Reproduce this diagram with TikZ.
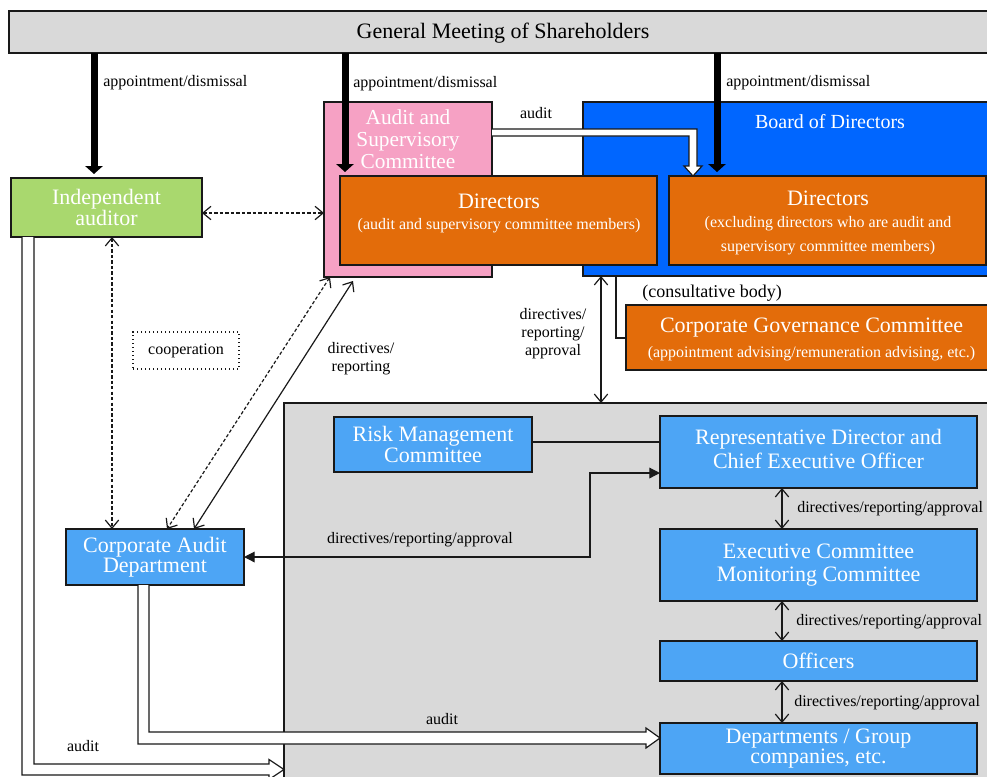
\documentclass[tikz,border=0pt]{standalone}
\usepackage{fontspec}
\setmainfont{Liberation Serif}
\usetikzlibrary{arrows.meta,calc}
\definecolor{gmgray}{RGB}{217,217,217}
\definecolor{iagreen}{RGB}{169,216,110}
\definecolor{ascpink}{RGB}{246,161,196}
\definecolor{dirorange}{RGB}{227,108,10}
\definecolor{bodblue}{RGB}{0,102,255}
\definecolor{ltblue}{RGB}{77,165,245}
\definecolor{linec}{RGB}{25,25,25}
\begin{document}
\begin{tikzpicture}[x=0.75pt,y=-0.75pt,
  box/.style={draw=linec,line width=1pt,inner sep=0pt,outer sep=0pt,align=center},
  sz/.style 2 args={minimum width=#1*0.75pt,minimum height=#2*0.75pt},
  bigw/.style={text=white,font=\fontsize{16.5}{15}\selectfont,align=center,inner sep=0pt},
  smw/.style={text=white,font=\fontsize{12}{14}\selectfont,align=center,inner sep=0pt},
  lbl/.style={text=black,font=\fontsize{12}{13.5}\selectfont,align=center,inner sep=0pt},
  thickarr/.style={draw=black,line width=5.25pt,-{Triangle[length=6pt,width=13pt]},shorten >=3pt},
  dbl/.style={draw=linec,line width=0.9pt,{Straight Barb[length=6pt,width=10pt]}-{Straight Barb[length=6pt,width=10pt]}},
  dsh/.style={dbl,dash pattern=on 2.5pt off 1.6pt},
  fillarr/.style={draw=linec,line width=0.9pt,{Triangle[length=8pt,width=8pt]}-{Triangle[length=8pt,width=8pt]}},
  hollow/.style={draw=linec,line width=0.9pt,fill=white,line join=miter},
  plain/.style={draw=linec,line width=0.9pt}]
\useasboundingbox (0,0) rectangle (987,776);
\clip (0,0) rectangle (987,776);

% executive area
\node[box,fill=gmgray,sz={716}{387}] (ga) at (642,596.5) {};

% General meeting
\node[box,fill=gmgray,sz={986}{42}] (gm) at (502,32) {};
\node[lbl,font=\fontsize{16.5}{18}\selectfont] (gmt) at (503,33) {General Meeting of Shareholders};

% Audit and Supervisory Committee
\node[box,fill=ascpink,sz={168}{175}] (asc) at (408,189.5) {};
\node[bigw,font=\fontsize{16}{16.5}\selectfont] (asct) at (408,139) {Audit and\\Supervisory\\Committee};

% Board of Directors
\node[box,fill=bodblue,sz={412}{174}] (bod) at (789,189) {};
\node[bigw,font=\fontsize{15}{18}\selectfont] (bodt) at (830,122) {Board of Directors};

% Directors (audit)
\node[box,fill=dirorange,sz={317}{89}] (da) at (498.5,220.5) {};
\node[bigw] (dat) at (499,201) {Directors};
\node[smw] (das) at (499,226) {(audit and supervisory committee members)};

% Directors (excluding)
\node[box,fill=dirorange,sz={317}{89}] (de) at (827.5,220.5) {};
\node[bigw] (det) at (828,198.5) {Directors};
\node[smw,font=\fontsize{12}{18}\selectfont] (des) at (828,236) {(excluding directors who are audit and\\supervisory committee members)};

% Independent auditor
\node[box,fill=iagreen,sz={191}{59},text=white,font=\fontsize{16.5}{14.25}\selectfont] (ia) at (106.5,207.5) {Independent\\auditor};

% Corporate Governance Committee
\node[box,fill=dirorange,sz={371}{65}] (cgc) at (811.5,337.5) {};
\node[bigw] (cgct) at (811.5,328) {Corporate Governance Committee};
\node[smw] (cgcs) at (811.5,354) {(appointment advising/remuneration advising, etc.)};
\node[lbl,font=\fontsize{13.5}{15}\selectfont] (cons) at (712,293) {(consultative body)};

% blue boxes
\node[box,fill=ltblue,sz={198}{55},text=white,font=\fontsize{16.5}{14.25}\selectfont] (rmc) at (433,444.5) {Risk Management\\Committee};
\node[box,fill=ltblue,sz={317}{72}] (rep) at (818.5,452) {};
\node[bigw,font=\fontsize{16.5}{18}\selectfont] (rept) at (818.5,449) {Representative Director and\\Chief Executive Officer};
\node[box,fill=ltblue,sz={317}{72},text=white,font=\fontsize{16.5}{17.25}\selectfont] (exec) at (818.5,565) {Executive Committee\\Monitoring Committee};
\node[box,fill=ltblue,sz={317}{40},text=white,font=\fontsize{16.5}{18}\selectfont] (off) at (818.5,661) {Officers};
\node[box,fill=ltblue,sz={317}{51},text=white,font=\fontsize{16.5}{15}\selectfont] (dept) at (818.5,748.5) {Departments / Group\\companies, etc.};
\node[box,fill=ltblue,sz={178}{56},text=white,font=\fontsize{16.5}{15}\selectfont] (cad) at (155,557) {Corporate Audit\\Department};

% cooperation
\node[box,dotted,line width=1.1pt,sz={106}{37},font=\fontsize{12}{14}\selectfont] (coop) at (186,350.5) {cooperation};

% thick appointment arrows
\draw[thickarr] (gm.south -| 94,0) -- (ia.north -| 94,0);
\draw[thickarr] (gm.south -| 345,0) -- (da.north -| 345,0);
\draw[thickarr] (gm.south -| 717,0) -- (de.north -| 717,0);
\node[lbl,anchor=west] (l1) at (103,83) {appointment/dismissal};
\node[lbl,anchor=west] (l2) at (353,84) {appointment/dismissal};
\node[lbl,anchor=west] (l3) at (726,83) {appointment/dismissal};

% hollow audit arrow ASC -> Directors
\draw[hollow] (asc.east |- 0,129) -- (697,129) -- (697,166) -- (702,166) -- (de.north -| 693,0) -- (684,166) -- (689,166) -- (689,136) -- (asc.east |- 0,136);
\node[lbl] (la) at (536,113) {audit};

% dashed connectors
\draw[dsh] (ia.east |- 0,213) -- (asc.west |- 0,213);
\draw[dsh] (ia.south -| 112,0) -- (cad.north -| 112,0);
\draw[dsh] (asc.south -| 330,0) -- (cad.north -| 167,0);
\draw[dbl] ($(asc.south -| 353,0)+(0,4)$) -- (cad.north -| 194,0);
\node[lbl] (ldr) at (361,359) {directives/\\reporting};

% board <-> executive area
\draw[dbl] (bod.south -| 601,0) -- (ga.north -| 601,0);
\node[lbl,font=\fontsize{12}{13.5}\selectfont] (ldra) at (553,334) {directives/\\reporting/\\approval};
\draw[plain] (bod.south -| 616,0) -- (616,338) -- (cgc.west |- 0,338);

% executive area connectors
\draw[plain] (rmc.east |- 0,442) -- (rep.west |- 0,442);
\draw[fillarr] (cad.east) -| (590,473) -- (rep.west |- 0,473);
\node[lbl] (ldra2) at (420,540) {directives/reporting/approval};

\draw[dbl] (rep.south -| 782,0) -- (exec.north -| 782,0);
\draw[dbl] (exec.south -| 782,0) -- (off.north -| 782,0);
\draw[dbl] (off.south -| 782,0) -- (dept.north -| 782,0);
\node[lbl,anchor=west] (r1) at (797,509) {directives/reporting/approval};
\node[lbl,anchor=west] (r2) at (796,622) {directives/reporting/approval};
\node[lbl,anchor=west] (r3) at (794,703) {directives/reporting/approval};

% hollow audit arrows at bottom
\draw[hollow] (cad.south -| 149,0) -- (149,732) -- (646,732) -- (646,728) -- (dept.west |- 0,738) -- (646,748) -- (646,744) -- (138,744) -- (cad.south -| 138,0);
\node[lbl] (lb1) at (442,719) {audit};
\draw[hollow] (ia.south -| 34,0) -- (34,764) -- (269,764) -- (269,759.5) -- (ga.west |- 0,769.5) -- (269,779.5) -- (269,775) -- (22,775) -- (ia.south -| 22,0);
\node[lbl] (lb2) at (83,746) {audit};
\end{tikzpicture}
\end{document}
